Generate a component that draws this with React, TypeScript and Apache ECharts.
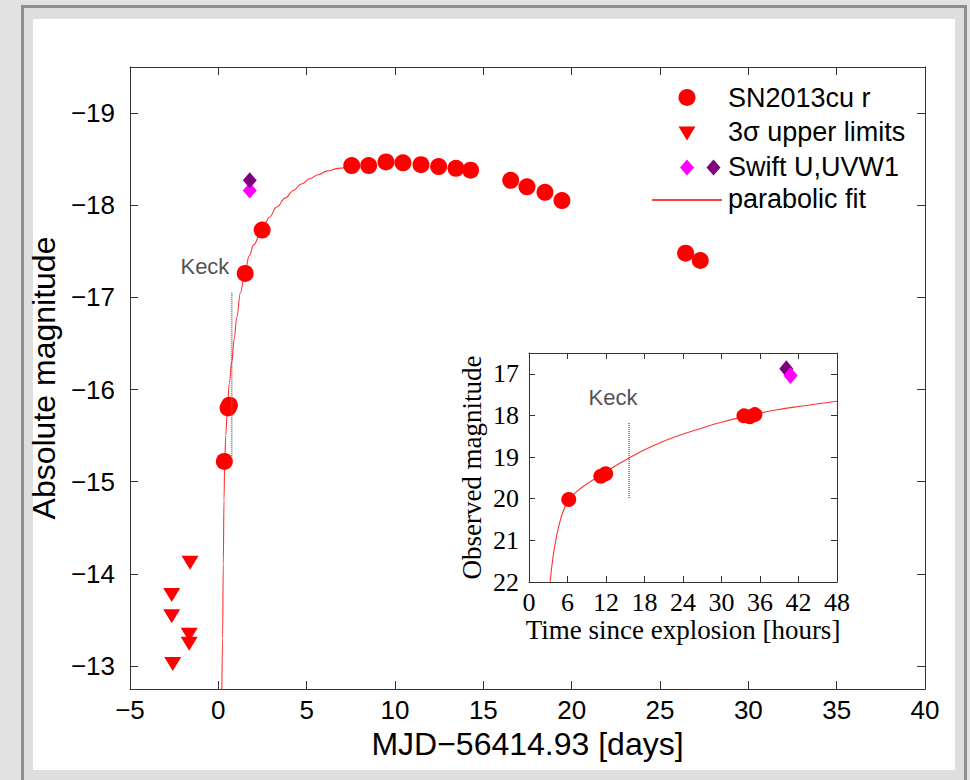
import React, { useEffect, useRef } from "react";
import * as echarts from "echarts";

// ---------- Main panel data ----------
const mainDays = [0.34, 0.55, 0.63, 1.52, 2.48, 7.55, 8.51, 9.49, 10.45, 11.47, 12.47, 13.45, 14.28, 16.55, 17.47, 18.49, 19.45, 26.45, 27.28];
const mainMag = [-15.22, -15.8, -15.83, -17.26, -17.73, -18.43, -18.43, -18.47, -18.46, -18.44, -18.42, -18.4, -18.38, -18.27, -18.2, -18.14, -18.05, -17.48, -17.4];

const limitDays = [-1.6, -2.64, -2.64, -1.65, -1.65, -2.58];
const limitMag = [-14.12, -13.77, -13.54, -13.34, -13.24, -13.02];

const swiftUDays = [1.78];
const swiftUMag = [-18.16];
const swiftW1Days = [1.78];
const swiftW1Mag = [-18.27];

const fitDays = [0.2, 0.24, 0.28, 0.32, 0.36, 0.42, 0.5, 0.62, 0.76, 0.9, 1.04, 1.25, 1.51, 1.75, 2.0, 2.45, 2.9, 3.3, 3.8, 4.24, 4.7, 5.19, 5.65, 6.13, 6.8, 7.45];
const fitMag = [-12.75, -13.3, -14.1, -14.8, -15.2, -15.5, -15.75, -16.07, -16.3, -16.55, -16.78, -17.05, -17.28, -17.45, -17.57, -17.73, -17.87, -17.98, -18.08, -18.16, -18.23, -18.29, -18.33, -18.37, -18.4, -18.42];

const keckDays = [0.76, 0.76];
const keckMag = [-17.05, -15.24];

const yTicksMain = [-19, -18, -17, -16, -15, -14, -13];

// ---------- Inset data ----------
const insetHours = [6.2, 11.2, 11.95, 33.5, 34.4, 35.2];
const insetMag = [20.02, 19.46, 19.4, 18.01, 18.03, 17.98];
const insetUHours = [40.75];
const insetUMag = [17.04];
const insetW1Hours = [40.1];
const insetW1Mag = [16.88];
const insetFitHours = [3.3, 3.7, 4.3, 5.0, 5.6, 6.2, 7.2, 8.5, 11.5, 13.5, 15.4, 18.5, 22.45, 27.6, 30.3, 33.5, 38.0, 43.2, 48.0];
const insetFitMag = [22.0, 21.45, 20.9, 20.45, 20.2, 20.02, 19.86, 19.7, 19.4, 19.21, 19.04, 18.79, 18.53, 18.27, 18.15, 18.03, 17.88, 17.76, 17.66];
const insetKeckHours = [15.6, 15.6];
const insetKeckMag = [18.18, 20.0];
const yTicksInset = [17, 18, 19, 20, 21, 22];

const legendLabels = ["SN2013cu r", "3σ upper limits", "Swift U,UVW1", "parabolic fit"];

const SANS = "'Liberation Sans', Arial, Helvetica, sans-serif";
const SERIF = "'Liberation Serif', 'Times New Roman', serif";
const RED = "#ff0000";
const MAGENTA = "#ff00ff";
const PURPLE = "#7f007f";
const AX = "#333333";

const zip = (a: number[], b: number[]) => a.map((v, i) => [v, b[i]]);
const minus = (v: number) => String(v).replace("-", "\u2212");

export default function App() {
  const ref = useRef<HTMLDivElement>(null);
  useEffect(() => {
    const chart = echarts.init(ref.current!, null, { renderer: "svg" });
    const axLine = { show: true, onZero: false, lineStyle: { color: AX, width: 1 } };
    const solid = (c: string) => ({ color: c, opacity: 1 });
    const option: any = {
      animation: false,
      backgroundColor: "#e2e2e2",
      grid: [
        { left: 130, top: 67, width: 795, height: 622, show: true, backgroundColor: "#ffffff", borderWidth: 0 },
        { left: 529, top: 353, width: 308, height: 229, show: true, backgroundColor: "#ffffff", borderWidth: 0 },
      ],
      xAxis: [
        {
          type: "value", gridIndex: 0, position: "bottom", min: -5, max: 40, interval: 5,
          axisLine: axLine, splitLine: { show: false },
          axisTick: { inside: true, length: 8, lineStyle: { color: AX } },
          axisLabel: { fontSize: 26, fontFamily: SANS, color: "#000", margin: 8, formatter: (v: number) => minus(v) },
          name: "MJD\u221256414.93 [days]", nameLocation: "middle", nameGap: 38,
          nameTextStyle: { fontSize: 32, fontFamily: SANS, color: "#000" },
        },
        {
          type: "value", gridIndex: 0, position: "top", min: -5, max: 40, interval: 5,
          axisLine: axLine, splitLine: { show: false },
          axisTick: { inside: true, length: 8, lineStyle: { color: AX } },
          axisLabel: { show: false },
        },
        {
          type: "value", gridIndex: 1, position: "bottom", min: 0, max: 48, interval: 6,
          axisLine: axLine, splitLine: { show: false },
          axisTick: { inside: true, length: 6, lineStyle: { color: AX } },
          axisLabel: { fontSize: 26, fontFamily: SERIF, color: "#000", margin: 7 },
          name: "Time since explosion [hours]", nameLocation: "middle", nameGap: 34,
          nameTextStyle: { fontSize: 27, fontFamily: SERIF, color: "#000" },
        },
        {
          type: "value", gridIndex: 1, position: "top", min: 0, max: 48, interval: 6,
          axisLine: axLine, splitLine: { show: false },
          axisTick: { inside: true, length: 6, lineStyle: { color: AX } },
          axisLabel: { show: false },
        },
      ],
      yAxis: [
        {
          type: "value", gridIndex: 0, position: "left", inverse: true, min: -19.5, max: -12.75,
          axisLine: axLine, splitLine: { show: false },
          axisTick: { inside: true, length: 8, customValues: yTicksMain, lineStyle: { color: AX } },
          axisLabel: { customValues: yTicksMain, fontSize: 26, fontFamily: SANS, color: "#000", margin: 15, formatter: (v: number) => minus(v) },
          name: "Absolute magnitude", nameLocation: "middle", nameGap: 57,
          nameTextStyle: { fontSize: 32, fontFamily: SANS, color: "#000" },
        },
        {
          type: "value", gridIndex: 0, position: "right", inverse: true, min: -19.5, max: -12.75,
          axisLine: axLine, splitLine: { show: false },
          axisTick: { inside: true, length: 8, customValues: yTicksMain, lineStyle: { color: AX } },
          axisLabel: { show: false },
        },
        {
          type: "value", gridIndex: 1, position: "left", inverse: true, min: 16.5, max: 22,
          axisLine: axLine, splitLine: { show: false },
          axisTick: { inside: true, length: 6, customValues: yTicksInset, lineStyle: { color: AX } },
          axisLabel: { customValues: yTicksInset, fontSize: 26, fontFamily: SERIF, color: "#000", margin: 10 },
          name: "Observed magnitude", nameLocation: "middle", nameGap: 44,
          nameTextStyle: { fontSize: 27, fontFamily: SERIF, color: "#000" },
        },
        {
          type: "value", gridIndex: 1, position: "right", inverse: true, min: 16.5, max: 22,
          axisLine: axLine, splitLine: { show: false },
          axisTick: { inside: true, length: 6, customValues: yTicksInset, lineStyle: { color: AX } },
          axisLabel: { show: false },
        },
      ],
      series: [
        // ---- main panel ----
        {
          type: "line", name: "Keck", xAxisIndex: 0, yAxisIndex: 0, data: zip(keckDays, keckMag),
          showSymbol: false, lineStyle: { color: "#777777", width: 1.6, type: [1, 1] }, silent: true,
        },
        {
          type: "line", name: "parabolic fit", xAxisIndex: 0, yAxisIndex: 0, data: zip(fitDays, fitMag),
          showSymbol: false, smooth: 0.4, smoothMonotone: "x", clip: true,
          lineStyle: { color: RED, width: 1.1, opacity: 0.8 },
        },
        {
          type: "scatter", name: "SN2013cu r", xAxisIndex: 0, yAxisIndex: 0, data: zip(mainDays, mainMag),
          symbol: "circle", symbolSize: 17, itemStyle: solid(RED),
        },
        {
          type: "scatter", name: "3σ upper limits", xAxisIndex: 0, yAxisIndex: 0, data: zip(limitDays, limitMag),
          symbol: "triangle", symbolRotate: 180, symbolSize: [17, 14], itemStyle: solid(RED),
        },
        {
          type: "scatter", name: "Swift U", xAxisIndex: 0, yAxisIndex: 0, data: zip(swiftUDays, swiftUMag),
          symbol: "diamond", symbolSize: [14, 16], itemStyle: solid(MAGENTA),
        },
        {
          type: "scatter", name: "Swift UVW1", xAxisIndex: 0, yAxisIndex: 0, data: zip(swiftW1Days, swiftW1Mag),
          symbol: "diamond", symbolSize: [14, 16], itemStyle: solid(PURPLE),
        },
        {
          type: "scatter", name: "Keck label", xAxisIndex: 0, yAxisIndex: 0, data: [[-0.76, -17.33]],
          symbolSize: 1, itemStyle: { color: "rgba(0,0,0,0)" }, silent: true,
          label: { show: true, position: "inside", formatter: "Keck", fontSize: 22, fontFamily: SANS, color: "#222" },
        },
        // ---- inset ----
        {
          type: "line", name: "Keck inset", xAxisIndex: 2, yAxisIndex: 2, data: zip(insetKeckHours, insetKeckMag),
          showSymbol: false, lineStyle: { color: "#777777", width: 1.6, type: [1, 1] }, silent: true,
        },
        {
          type: "line", name: "fit inset", xAxisIndex: 2, yAxisIndex: 2, data: zip(insetFitHours, insetFitMag),
          showSymbol: false, smooth: 0.5, clip: true,
          lineStyle: { color: RED, width: 1.1, opacity: 0.8 },
        },
        {
          type: "scatter", name: "inset r", xAxisIndex: 2, yAxisIndex: 2, data: zip(insetHours, insetMag),
          symbol: "circle", symbolSize: 15, itemStyle: solid(RED),
        },
        {
          type: "scatter", name: "inset UVW1", xAxisIndex: 2, yAxisIndex: 2, data: zip(insetW1Hours, insetW1Mag),
          symbol: "diamond", symbolSize: [14, 17], itemStyle: solid(PURPLE),
        },
        {
          type: "scatter", name: "inset U", xAxisIndex: 2, yAxisIndex: 2, data: zip(insetUHours, insetUMag),
          symbol: "diamond", symbolSize: [14, 17], itemStyle: solid(MAGENTA),
        },
        {
          type: "scatter", name: "Keck inset label", xAxisIndex: 2, yAxisIndex: 2, data: [[13.1, 17.56]],
          symbolSize: 1, itemStyle: { color: "rgba(0,0,0,0)" }, silent: true,
          label: { show: true, position: "inside", formatter: "Keck", fontSize: 22, fontFamily: SANS, color: "#222" },
        },
      ],
      graphic: [
        { type: "rect", z: -10, shape: { x: 22.5, y: 6.5, width: 943, height: 790 }, style: { fill: "#dedede", stroke: "#8e8e8e", lineWidth: 3 } },
        { type: "rect", z: -9, shape: { x: 33, y: 19, width: 922, height: 751 }, style: { fill: "#ffffff" } },
        // legend
        { type: "circle", z: 100, shape: { cx: 687, cy: 97.5, r: 8.5 }, style: { fill: RED } },
        { type: "polygon", z: 100, shape: { points: [[678.5, 126.5], [695.5, 126.5], [687, 140.5]] }, style: { fill: RED } },
        { type: "polygon", z: 100, shape: { points: [[687, 159.5], [694, 167.5], [687, 175.5], [680, 167.5]] }, style: { fill: MAGENTA } },
        { type: "polygon", z: 100, shape: { points: [[713.5, 159.5], [720.5, 167.5], [713.5, 175.5], [706.5, 167.5]] }, style: { fill: PURPLE } },
        { type: "line", z: 100, shape: { x1: 652, y1: 200, x2: 722, y2: 200 }, style: { stroke: RED, lineWidth: 1.3 } },
        ...legendLabels.map((t, i) => ({
          type: "text", z: 100, x: 728, y: [97.5, 132, 167, 199][i],
          style: { text: t, fontSize: 27, fontFamily: SANS, fill: "#000", verticalAlign: "middle" },
        })),
      ],
    };
    chart.setOption(option);
    return () => chart.dispose();
  }, []);
  return <div ref={ref} style={{ position: "fixed", left: 0, top: 0, width: 970, height: 780 }} />;
}
